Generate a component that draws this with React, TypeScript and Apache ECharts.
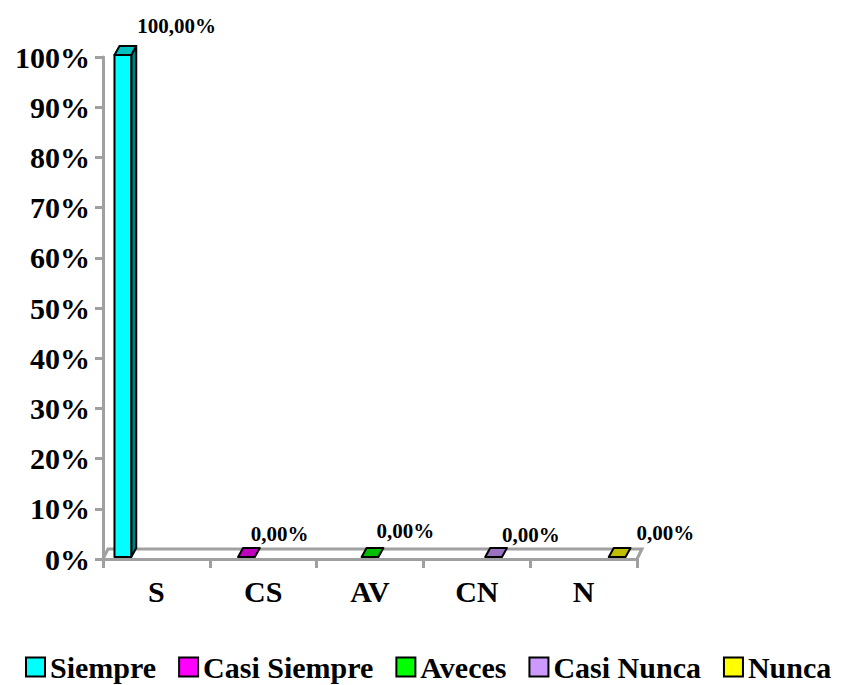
import React, { useEffect, useRef } from "react";
import * as echarts from "echarts";

const categories = ["S", "CS", "AV", "CN", "N"];
const seriesNames = ["Siempre", "Casi Siempre", "Aveces", "Casi Nunca", "Nunca"];
const siempreValues = [1.0, null, null, null, null];
const casiSiempreValues = [null, 0.0, null, null, null];
const avecesValues = [null, null, 0.0, null, null];
const casiNuncaValues = [null, null, null, 0.0, null];
const nuncaValues = [null, null, null, null, 0.0];
const seriesValues = [siempreValues, casiSiempreValues, avecesValues, casiNuncaValues, nuncaValues];
const yTicks = [0, 0.1, 0.2, 0.3, 0.4, 0.5, 0.6, 0.7, 0.8, 0.9, 1.0];

// styling
const frontColors = ["#00FFFF", "#FF00FF", "#00FF00", "#CC99FF", "#FFFF00"];
const topColors = ["#00BFBF", "#BF00BF", "#00BF00", "#9973BF", "#BFBF00"];
const sideColors = ["#008080", "#800080", "#008000", "#664C80", "#808000"];
const labelDx = [6, -4, -2, 0, 11];
const labelDy = [-20, -14, -17, -13, -15];
const GRAY = "#a0a0a0";
const DEPTH_X = 5;
const DEPTH_Y = -9;
const FONT = "Liberation Serif";

const fmtLabel = (v: number) => (v * 100).toFixed(2).replace(".", ",") + "%";

function makeBarRender(i: number) {
  return (params: any, api: any) => {
    const cat = api.value(0);
    const v = api.value(1);
    const base = api.coord([cat, 0]);
    const top = api.coord([cat, v]);
    const bw = api.size([1, 0])[0];
    const barW = bw * 0.157;
    const x0 = base[0] - 2.5 * barW + i * barW;
    const x1 = x0 + barW;
    const yb = base[1] - 2;
    const yt = top[1] - 2;
    const stroke = { stroke: "#000", lineWidth: 2, lineJoin: "round" };
    const children: any[] = [];
    if (yb - yt > 0.5) {
      children.push({
        type: "polygon",
        shape: { points: [[x1, yt], [x1 + DEPTH_X, yt + DEPTH_Y], [x1 + DEPTH_X, yb + DEPTH_Y], [x1, yb]] },
        style: { fill: sideColors[i], ...stroke },
      });
      children.push({
        type: "polygon",
        shape: { points: [[x0, yt], [x1, yt], [x1, yb], [x0, yb]] },
        style: { fill: frontColors[i], ...stroke },
      });
    }
    children.push({
      type: "polygon",
      shape: { points: [[x0, yt], [x0 + DEPTH_X, yt + DEPTH_Y], [x1 + DEPTH_X, yt + DEPTH_Y], [x1, yt]] },
      style: { fill: topColors[i], ...stroke },
    });
    children.push({
      type: "text",
      style: {
        text: fmtLabel(v),
        x: x1 + labelDx[i],
        y: yt + DEPTH_Y + labelDy[i],
        fill: "#000",
        font: `bold 21px "${FONT}", serif`,
        textAlign: "left",
        textVerticalAlign: "middle",
      },
    });
    return { type: "group", children };
  };
}

function floorRender(params: any, api: any) {
  const bw = api.size([1, 0])[0];
  const l = api.coord([0, 0]);
  const r = api.coord([categories.length - 1, 0]);
  const left = l[0] - bw / 2;
  const right = r[0] + bw / 2;
  const y = l[1];
  return {
    type: "polyline",
    shape: {
      points: [
        [left, y],
        [left + DEPTH_X, y - 10],
        [right + DEPTH_X, y - 10],
        [right, y],
      ],
    },
    style: { stroke: GRAY, lineWidth: 3, fill: null },
  };
}

export default function App() {
  const ref = useRef<HTMLDivElement>(null);
  useEffect(() => {
    if (!ref.current) return;
    const chart = echarts.init(ref.current, null, { renderer: "svg" });
    const barSeries = seriesNames.map((name, i) => ({
      name,
      type: "custom",
      renderItem: makeBarRender(i),
      data: seriesValues[i]
        .map((v, c) => (v === null ? null : [c, v]))
        .filter((d) => d !== null),
      itemStyle: { color: frontColors[i], borderColor: "#000", borderWidth: 2 },
      z: 3,
      silent: true,
    }));
    chart.setOption({
      animation: false,
      backgroundColor: "#fff",
      textStyle: { fontFamily: FONT, fontWeight: "bold" },
      grid: { left: 103, right: 206, top: 57, bottom: 126, containLabel: false },
      legend: {
        data: seriesNames,
        left: 25,
        top: 650,
        padding: 0,
        icon: "rect",
        itemWidth: 19,
        itemHeight: 19,
        itemGap: 22,
        itemStyle: { borderColor: "#000", borderWidth: 2 },
        textStyle: {
          fontFamily: FONT,
          fontWeight: "bold",
          fontSize: 30,
          lineHeight: 34,
          color: "#000",
        },
      },
      xAxis: {
        type: "category",
        data: categories,
        boundaryGap: true,
        axisLine: { lineStyle: { color: GRAY, width: 3 } },
        axisTick: { show: true, length: 9, lineStyle: { color: GRAY, width: 3 } },
        axisLabel: { fontFamily: FONT, fontWeight: "bold", fontSize: 30, color: "#000", margin: 17 },
        splitLine: { show: false },
      },
      yAxis: {
        type: "value",
        min: yTicks[0],
        max: yTicks[yTicks.length - 1],
        interval: 0.1,
        axisLine: { show: true, lineStyle: { color: GRAY, width: 3 } },
        axisTick: { show: true, length: 8, lineStyle: { color: GRAY, width: 3 } },
        axisLabel: {
          fontFamily: FONT,
          fontWeight: "bold",
          fontSize: 30,
          color: "#000",
          margin: 13,
          formatter: (v: number) => Math.round(v * 100) + "%",
        },
        splitLine: { show: false },
      },
      series: [
        {
          name: "floor",
          type: "custom",
          renderItem: floorRender,
          data: [[0, 0]],
          z: 1,
          silent: true,
        },
        ...barSeries,
      ],
    });
    return () => chart.dispose();
  }, []);
  return (
    <div
      ref={ref}
      style={{ position: "fixed", left: 0, top: 0, width: 843, height: 685, background: "#fff" }}
    />
  );
}
